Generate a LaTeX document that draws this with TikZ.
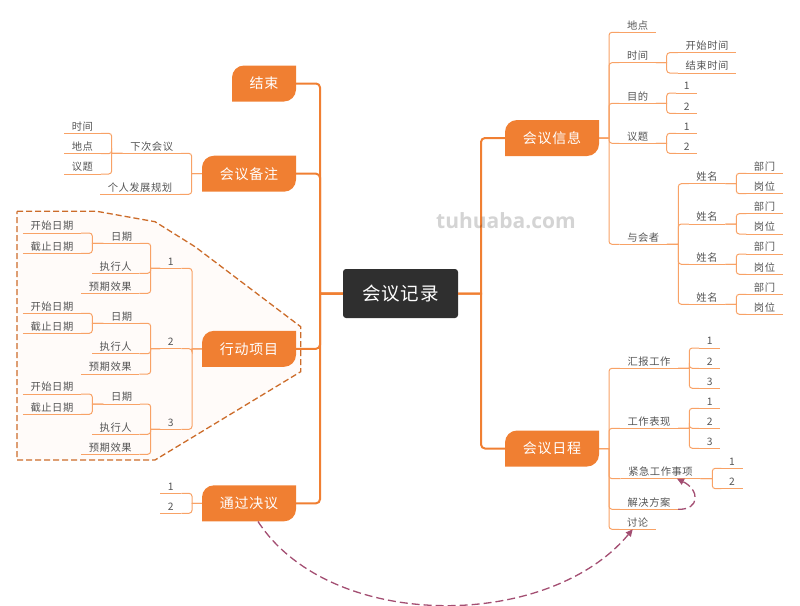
\documentclass[tikz,border=0pt]{standalone}
\usepackage{fontspec}
\usepackage{tikz}
\usetikzlibrary{arrows.meta}
\setmainfont[LetterSpace=5]{Noto Sans CJK SC}
\newfontfamily\markfont{Open Sans}
\definecolor{topicfill}{HTML}{F07F32}
\definecolor{subline}{HTML}{F8A266}
\definecolor{inktext}{HTML}{555555}
\definecolor{rootfill}{HTML}{2F2F2F}
\definecolor{rellink}{HTML}{A34E72}
\tikzset{
    root/.style={
        fill=rootfill,
        rounded corners=3,
        inner sep=0,
        minimum width=115,
        minimum height=49,
        text=white,
        font=\fontsize{18.5}{18.5}\selectfont
    },
    topic/.style={
        inner sep=0,
        minimum width=#1,
        minimum height=36,
        text=white,
        font=\fontsize{14}{14}\selectfont,
        path picture={
            \fill[topicfill] (path picture bounding box.south west)
                [rounded corners=12] -- (path picture bounding box.north west)
                [sharp corners] -- (path picture bounding box.north east)
                [rounded corners=12] -- (path picture bounding box.south east)
                [sharp corners] -- cycle;
        }
    },
    topic/.default=94,
    leaf/.style={
        anchor=south,
        inner xsep=7.5,
        inner ysep=1.5,
        text height=10.5,
        text depth=1.5,
        text=inktext,
        font=\fontsize{10.3}{10.3}\selectfont
    },
    trunk/.style={draw=topicfill, line width=2},
    sub/.style={draw=subline, line width=1},
    rel/.style={draw=rellink, line width=1.3, dash pattern=on 8 off 4, -{Triangle[length=7,width=6.5]}}
}
\newcommand{\leaf}[4] {
	\node[leaf] (#1) at (#2,#3) {#4};
	\draw[sub] (#1.south west) -- (#1.south east);
}
% elbow to the right and to the left of a parent
\newcommand{\linkR}[3] {
	\draw[sub] (#1) -- (#2,0 |- #1) [rounded corners=3] -- (#2,0 |- #3.south west) -- (#3.south west);
}
\newcommand{\linkL}[3] {
	\draw[sub] (#1) -- (#2,0 |- #1) [rounded corners=3] -- (#2,0 |- #3.south east) -- (#3.south east);
}
\newcommand{\person}[4] {
	\leaf{name#1}{707}{#2}{姓名}
	\leaf{dept#1}{764.5}{#3}{部门}
	\leaf{post#1}{764.5}{#4}{岗位}
	\linkR{attend.south east}{678.3}{name#1}
	\linkR{name#1.south east}{736.3}{dept#1}
	\linkR{name#1.south east}{736.3}{post#1}
}
\newcommand{\actionitem}[7] {
	\leaf{item#1}{170.7}{#2}{#1}
	\leaf{date#1}{121.7}{#3}{日期}
	\leaf{start#1}{52}{#4}{开始日期}
	\leaf{stop#1}{52}{#5}{截止日期}
	\leaf{owner#1}{115.7}{#6}{执行人}
	\leaf{goal#1}{110.3}{#7}{预期效果}
	\linkL{action.west}{192}{item#1}
	\linkL{item#1.south west}{150.7}{date#1}
	\linkL{item#1.south west}{150.7}{owner#1}
	\linkL{item#1.south west}{150.7}{goal#1}
	\linkL{date#1.south west}{92.3}{start#1}
	\linkL{date#1.south west}{92.3}{stop#1}
}

\begin{document}
\begin{tikzpicture}[x=1pt,y=-1pt]
		\useasboundingbox (0,0) rectangle (800,605);

		% Boundary round the action items
		\draw [draw=topicfill!85!black, fill=topicfill!3, line width=1.3, dash pattern=on 6 off 3]
			(17,211.3) -- (96.7,211.3) -- (155,221.7) -- (195,246.7) -- (300.7,326.7)
			-- (300.7,371.7) -- (155,460) -- (17,460) -- cycle;

		% Main topics
		\node[root] (meeting) at (400.5,293.5) {会议记录};
		\node[topic=64] (finish) at (264,83.5) {结束};
		\node[topic] (notes) at (249,173.7) {会议备注};
		\node[topic] (action) at (249,348.8) {行动项目};
		\node[topic] (decide) at (249,503.3) {通过决议};
		\node[topic] (info) at (552,138) {会议信息};
		\node[topic] (agenda) at (552,448.5) {会议日程};

		\foreach \t in {finish,notes,action,decide} {
			\draw[trunk] (meeting.west) -- (320,0 |- meeting.west) [rounded corners=4] -- (320,0 |- \t.east) -- (\t.east);
		}
		\foreach \t in {info,agenda} {
			\draw[trunk] (meeting.east) -- (481,0 |- meeting.east) [rounded corners=4] -- (481,0 |- \t.west) -- (\t.west);
		}

		% Meeting info
		\leaf{place}{637.7}{32.3}{地点}
		\leaf{time}{637.7}{62.7}{时间}
		\leaf{begin}{707}{52.7}{开始时间}
		\leaf{end}{707}{73}{结束时间}
		\leaf{aim}{637.7}{103.3}{目的}
		\leaf{aimA}{686.7}{93}{1}
		\leaf{aimB}{686.7}{113.3}{2}
		\leaf{topics}{637.7}{143.3}{议题}
		\leaf{topicA}{686.7}{133.3}{1}
		\leaf{topicB}{686.7}{153.3}{2}
		\leaf{attend}{643.3}{244.3}{与会者}
		\foreach \p in {place,time,aim,topics,attend} {
			\linkR{info.east}{609}{\p}
		}
		\linkR{time.south east}{666.7}{begin}
		\linkR{time.south east}{666.7}{end}
		\linkR{aim.south east}{666.7}{aimA}
		\linkR{aim.south east}{666.7}{aimB}
		\linkR{topics.south east}{666.7}{topicA}
		\linkR{topics.south east}{666.7}{topicB}

		\person{A}{183.7}{173.3}{193.7}
		\person{B}{224}{213.7}{234}
		\person{C}{264.3}{254}{274.3}
		\person{D}{304.3}{294.3}{314.3}

		% Meeting agenda
		\leaf{report}{649}{368.3}{汇报工作}
		\leaf{reportA}{709.7}{348}{1}
		\leaf{reportB}{709.7}{368.3}{2}
		\leaf{reportC}{709.7}{388.3}{3}
		\leaf{perform}{649}{428.3}{工作表现}
		\leaf{performA}{709.7}{408.3}{1}
		\leaf{performB}{709.7}{428.3}{2}
		\leaf{performC}{709.7}{448.3}{3}
		\leaf{urgent}{660.5}{478.7}{紧急工作事项}
		\leaf{urgentA}{732}{468.3}{1}
		\leaf{urgentB}{732}{488.7}{2}
		\leaf{solve}{649}{509.3}{解决方案}
		\leaf{talk}{637.7}{529.3}{讨论}
		\foreach \p in {report,perform,urgent,solve,talk} {
			\linkR{agenda.east}{609}{\p}
		}
		\foreach \p in {reportA,reportB,reportC} {
			\linkR{report.south east}{689.3}{\p}
		}
		\foreach \p in {performA,performB,performC} {
			\linkR{perform.south east}{689.3}{\p}
		}
		\linkR{urgent.south east}{712.3}{urgentA}
		\linkR{urgent.south east}{712.3}{urgentB}

		% Meeting notes
		\leaf{next}{151.7}{153.3}{下次会议}
		\leaf{nextTime}{82.5}{133.3}{时间}
		\leaf{nextPlace}{82.5}{153.7}{地点}
		\leaf{nextTopic}{82.5}{174}{议题}
		\leaf{plan}{140}{194.3}{个人发展规划}
		\linkL{notes.west}{191.7}{next}
		\linkL{notes.west}{191.7}{plan}
		\foreach \p in {nextTime,nextPlace,nextTopic} {
			\linkL{next.south west}{111.7}{\p}
		}

		% Action items
		\actionitem{1}{268.3}{243.3}{233}{253.3}{273.3}{293.3}
		\actionitem{2}{348.7}{323.3}{313.3}{333.3}{353.7}{374}
		\actionitem{3}{429.3}{404}{394}{414.3}{434.3}{454.3}

		% Decisions
		\leaf{decideA}{170.7}{493.3}{1}
		\leaf{decideB}{170.7}{513.3}{2}
		\linkL{decide.west}{192}{decideA}
		\linkL{decide.west}{192}{decideB}

		% Relationships
		\draw[rel] ([xshift=9]decide.south) .. controls (330,632) and (548,631) .. ([xshift=-5]talk.south);
		\draw[rel] (solve.south east) .. controls (700,510) and (700,490) .. ([xshift=16.5]urgent.south);

		\node[font=\markfont\bfseries\fontsize{21}{21}\selectfont, text=black, opacity=0.17, inner sep=0] (mark) at (506,220.7) {tuhuaba.com};
	\end{tikzpicture}
\end{document}
